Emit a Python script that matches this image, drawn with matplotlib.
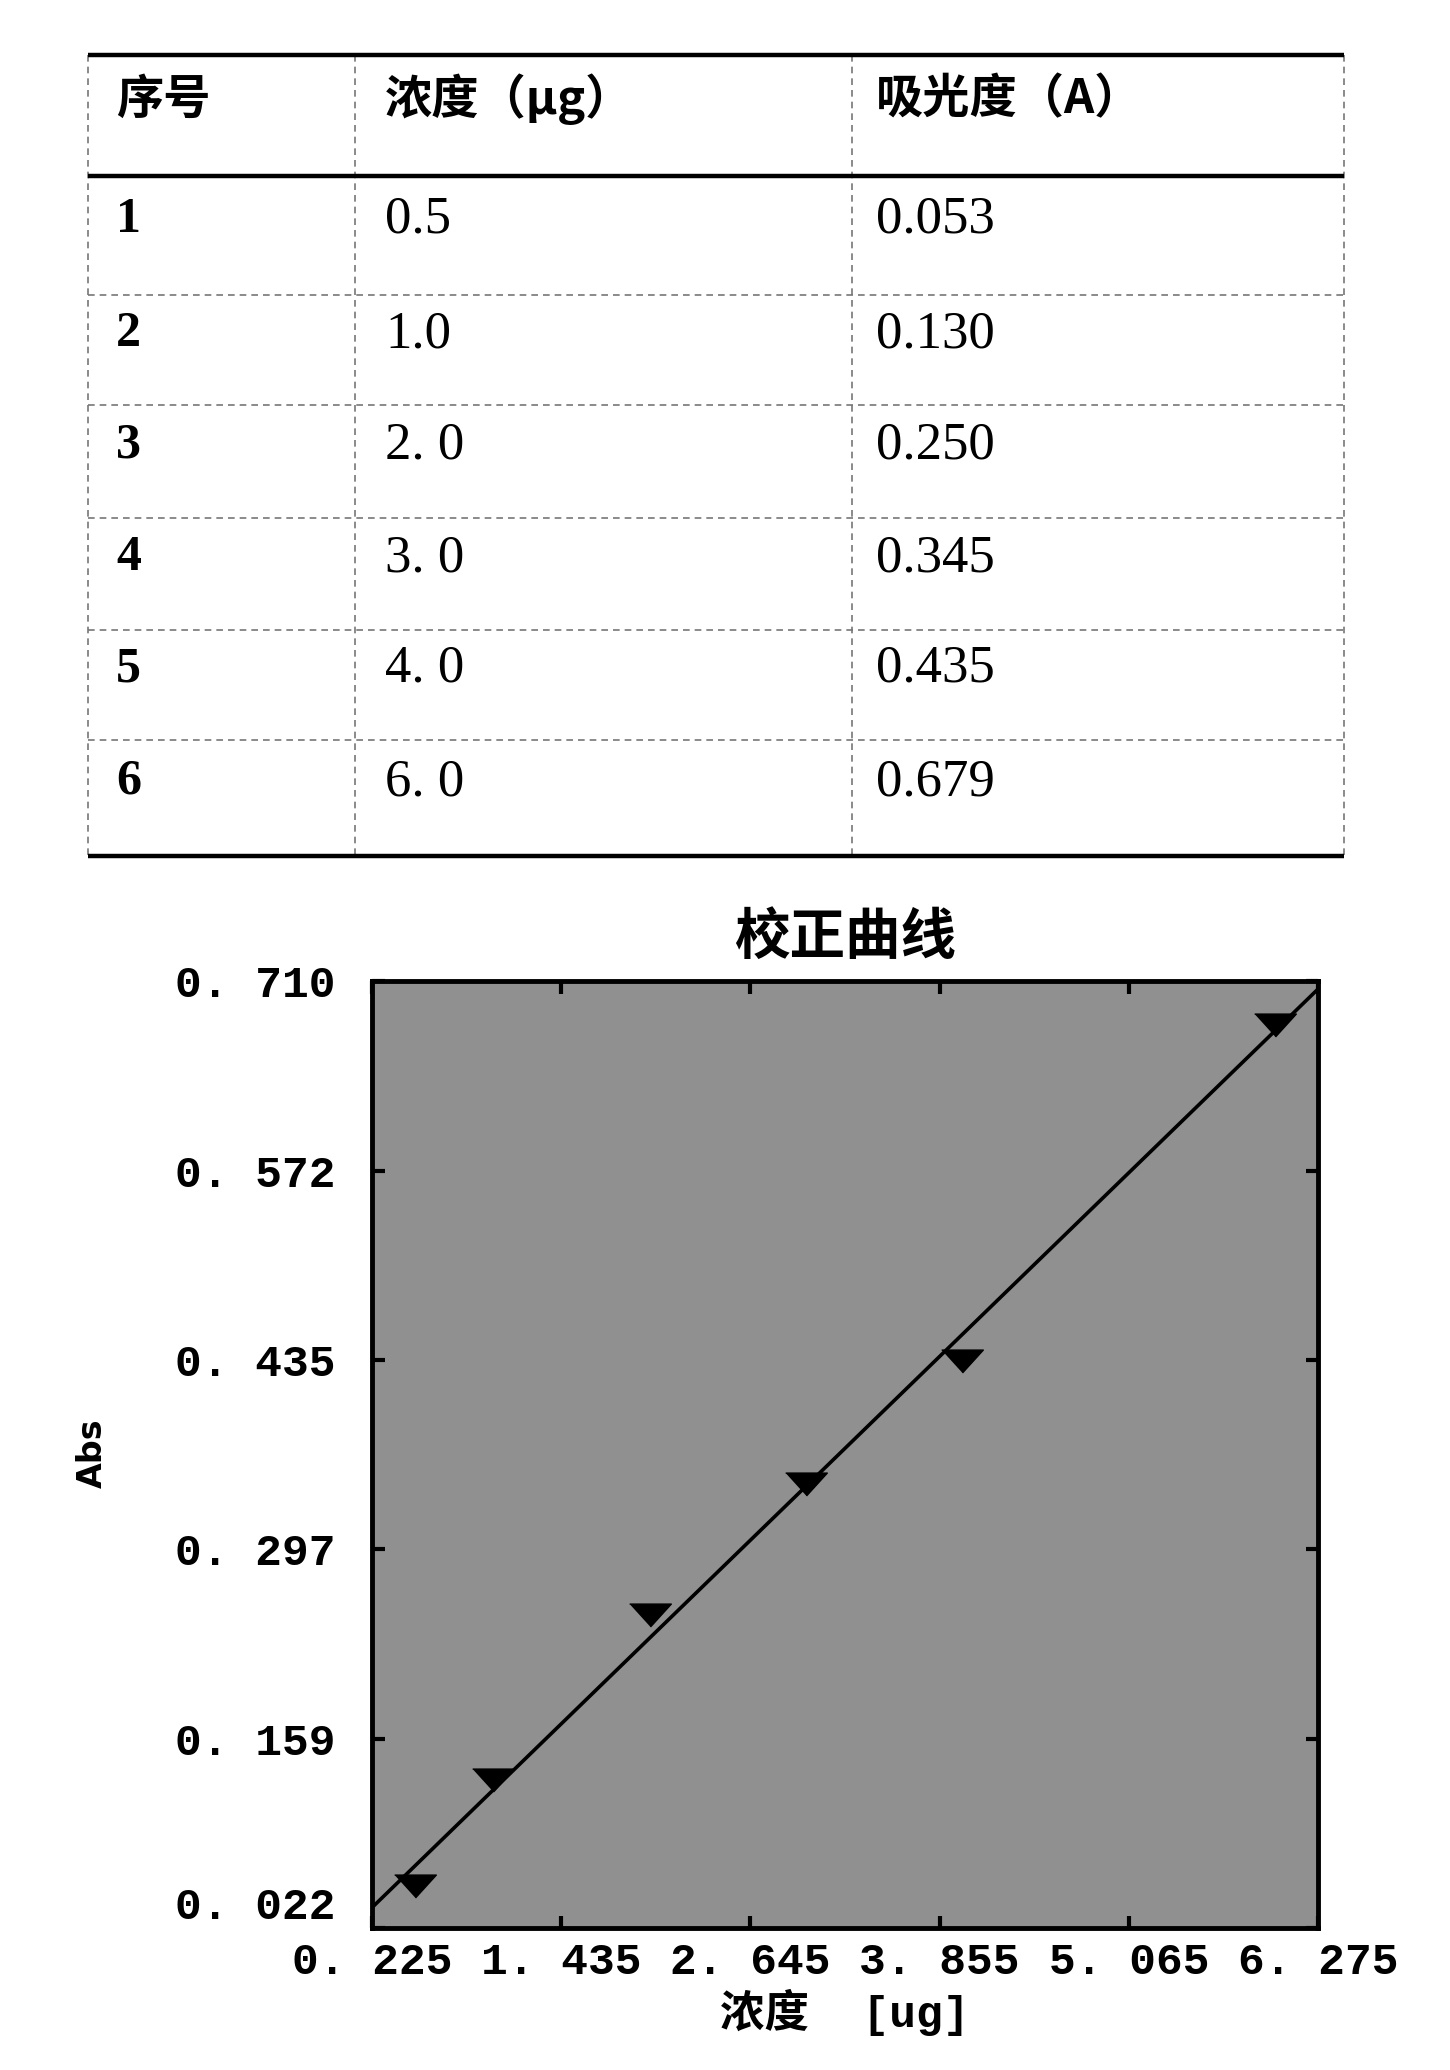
import numpy as np
import matplotlib
matplotlib.use("Agg")
import matplotlib.pyplot as plt

# table data
row_ids = ["1", "2", "3", "4", "5", "6"]
conc_labels = ["0.5", "1.0", "2. 0", "3. 0", "4. 0", "6. 0"]
abs_labels = ["0.053", "0.130", "0.250", "0.345", "0.435", "0.679"]
headers = ["序号", "浓度（μg）", "吸光度（A）"]

# calibration points
conc = [0.5, 1.0, 2.0, 3.0, 4.0, 6.0]
absorb = [0.053, 0.130, 0.250, 0.345, 0.435, 0.679]

xticks = [0.225, 1.435, 2.645, 3.855, 5.065, 6.275]
yticks = [0.022, 0.159, 0.297, 0.435, 0.572, 0.710]

cjk = ["Noto Sans CJK SC", "DejaVu Sans"]
mono = ["Liberation Mono", "DejaVu Sans Mono"]
mono_cjk = ["Liberation Mono", "Noto Sans CJK SC"]
serif = ["Liberation Serif", "DejaVu Serif"]


def main():
    W, H = 1450, 2070
    fig = plt.figure(figsize=(W / 100, H / 100), dpi=100)

    # ---- table, drawn in pixel coordinates ----
    tab = fig.add_axes([0, 0, 1, 1])
    tab.set_xlim(0, W)
    tab.set_ylim(H, 0)
    tab.axis("off")

    left, right = 88, 1344
    col_x = [left, 355, 852, right]
    row_y = [55, 176, 295, 405, 518, 630, 740, 856]

    for x in col_x:
        tab.plot([x, x], [row_y[0], row_y[-1]], color="#777777", lw=1.2,
                 ls=(0, (4, 3)))
    for y in row_y[2:-1]:
        tab.plot([left, right], [y, y], color="#777777", lw=1.2,
                 ls=(0, (4, 3)))
    for y in [row_y[0], row_y[1], row_y[-1]]:
        tab.plot([left, right], [y, y], color="black", lw=3.2,
                 solid_capstyle="butt")

    text_x = [116, 385, 876]
    y_mid = [(a + b) / 2 - 16 for a, b in zip(row_y[:-1], row_y[1:])]
    for x, h in zip(text_x, headers):
        tab.text(x, y_mid[0], h, family=cjk, fontsize=34, fontweight="bold",
                 va="center", ha="left")
    for i in range(len(row_ids)):
        y = y_mid[i + 1]
        tab.text(text_x[0], y, row_ids[i], family=serif, fontsize=36,
                 fontweight="bold", va="center")
        tab.text(text_x[1], y, conc_labels[i], family=serif, fontsize=38,
                 va="center")
        tab.text(text_x[2], y, abs_labels[i], family=serif, fontsize=38,
                 va="center")

    # ---- calibration curve ----
    ax_l, ax_r, ax_t, ax_b = 372, 1318, 981, 1928
    ax = fig.add_axes([ax_l / W, 1 - ax_b / H, (ax_r - ax_l) / W,
                       (ax_b - ax_t) / H])
    ax.set_facecolor("#909090")

    slope, icpt = np.polyfit(conc, absorb, 1)
    xl = np.array([xticks[0], xticks[-1]])
    ax.plot(xl, slope * xl + icpt, color="black", lw=2.6)

    tri = [(-1, 0.5), (1, 0.5), (0, -0.6)]
    ax.plot(conc, absorb, ls="none", marker=tri, ms=30, color="black")

    ax.set_xlim(xticks[0], xticks[-1])
    ax.set_ylim(yticks[0], yticks[-1])
    ax.set_xticks(xticks)
    ax.set_yticks(yticks)
    ax.set_xticklabels([f"{v:.3f}".replace(".", ". ") for v in xticks],
                       family=mono, fontweight="bold", fontsize=32)
    ax.set_yticklabels([f"{v:.3f}".replace(".", ". ") for v in yticks],
                       family=mono, fontweight="bold", fontsize=32)
    ax.get_yticklabels()[0].set_va("bottom")
    ax.tick_params(direction="in", length=9, width=3, top=True, right=True)
    ax.tick_params(axis="x", pad=10)
    ax.tick_params(axis="y", pad=26)
    for s in ax.spines.values():
        s.set_linewidth(3.5)

    fig.text((ax_l + ax_r) / 2 / W, 1 - 938 / H, "校正曲线", family=cjk,
             fontsize=40, fontweight="bold", ha="center", va="center")
    fig.text((ax_l + ax_r) / 2 / W, 1 - 2012 / H, "浓度  [ug]",
             family=mono_cjk, fontsize=32, fontweight="bold",
             ha="center", va="center")
    fig.text(92 / W, 1 - 1453 / H, "Abs", family=["DejaVu Sans"],
             fontsize=24, fontweight="bold", ha="center", va="center",
             rotation=90)

    fig.savefig("out.png", dpi=100, facecolor="white")


if __name__ == "__main__":
    main()
